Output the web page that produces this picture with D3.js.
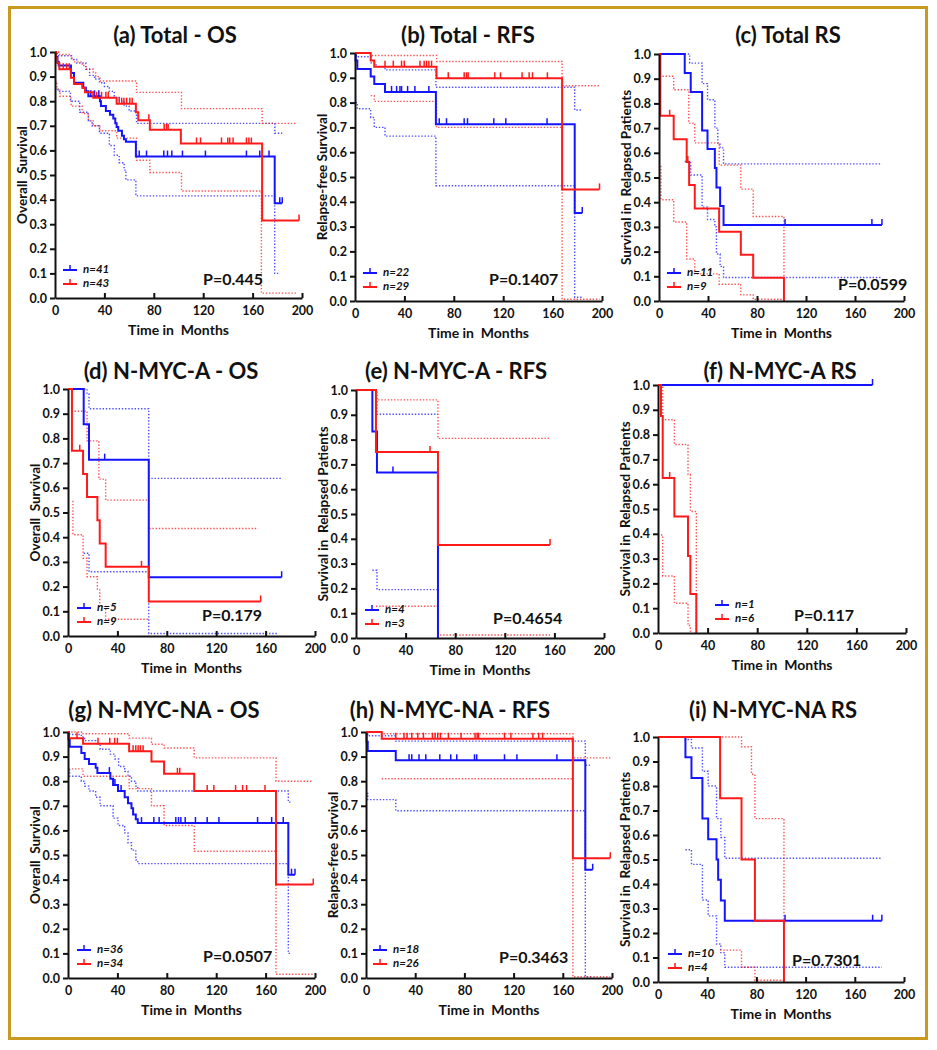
<!DOCTYPE html>
<html>
<head>
<meta charset="utf-8">
<script src="https://cdn.jsdelivr.net/npm/d3@7"></script>
<style>
body { margin: 0; background: #fff; }
text { font-family: Lato, "Open Sans", sans-serif; font-weight: bold; fill: #111; }
</style>
</head>
<body>
<div id="chart"></div>
<script>
// ---- data: [time, survival] step points, censor times, CI bands ----
const xTicks = [0, 40, 80, 120, 160, 200];
const yTicks = [0, 0.1, 0.2, 0.3, 0.4, 0.5, 0.6, 0.7, 0.8, 0.9, 1.0];

// (a) Total - OS
const aBlue = [[0,1],[0.8,0.98],[1.9,0.96],[3,0.945],[12.9,0.915],[15.4,0.875],[22.9,0.855],[25,0.84],[27,0.82],[36.4,0.80],[37.2,0.78],[41.2,0.76],[44.5,0.745],[47.2,0.73],[48.8,0.71],[49.9,0.695],[51.2,0.68],[54.2,0.66],[55.8,0.645],[57.4,0.635],[65.5,0.575],[177.9,0.385],[184,0.385]];
const aBlueCens = [29,32,35.5,68.2,74.1,88.1,91.1,94.6,103.2,121.8,155,165.8,173.3,182,184];
const aBlueHi = [[0,1],[2,0.985],[13.4,0.97],[17.5,0.955],[25,0.93],[28,0.905],[32,0.89],[36,0.875],[40,0.86],[44,0.84],[48,0.815],[52,0.80],[56,0.78],[60,0.76],[66,0.71],[178,0.67],[184,0.67]];
const aBlueLo = [[0,0.85],[2.5,0.84],[12.5,0.80],[20,0.755],[27,0.72],[30,0.70],[36,0.67],[44,0.62],[48,0.58],[52,0.55],[56,0.52],[57.4,0.48],[65.5,0.415],[177.9,0.10],[182,0.10]];
const aRed = [[0,1],[0.8,0.975],[1.9,0.955],[3.5,0.93],[12.9,0.895],[15.4,0.87],[22.1,0.855],[24.3,0.836],[31,0.814],[49.9,0.79],[65.5,0.755],[67.4,0.723],[76.8,0.684],[101.9,0.628],[167.7,0.315],[197.6,0.315]];
const aRedCens = [6.7,9.4,11.6,33.7,37.7,41.2,43.1,52,54,55.8,58,60.6,62.5,76,88.4,90.3,91.6,114.6,117.8,134.8,139.9,141.5,144.2,155,157,159,197.6];
const aRedHi = [[0,1],[3,0.99],[13,0.975],[15,0.96],[22,0.945],[25,0.93],[31,0.915],[33,0.9],[36.4,0.882],[66,0.836],[102.4,0.77],[167.7,0.71],[196,0.71]];
const aRedLo = [[0,0.88],[1.5,0.85],[4,0.82],[13,0.78],[22,0.75],[27,0.72],[31,0.70],[36.4,0.68],[49.9,0.65],[66,0.56],[76.8,0.51],[102.4,0.435],[167.1,0.02],[196,0.02]];

// (b) Total - RFS
const bBlue = [[0,1],[0.5,0.97],[1.9,0.935],[12.7,0.905],[15.6,0.875],[24.3,0.843],[65.5,0.713],[177.9,0.355],[184,0.355]];
const bBlueCens = [29.6,33.7,36.4,37.7,42.6,48.5,59.8,68.2,74.1,88.4,91.1,112.4,122.1,155.5,184];
const bBlueHi = [[0,1],[1,0.985],[13,0.96],[17,0.945],[24.3,0.932],[65.5,0.862],[177.9,0.77],[184,0.77]];
const bBlueLo = [[0.5,0.80],[1.9,0.775],[12.7,0.74],[15.6,0.70],[24.3,0.665],[65.5,0.465],[177.9,0.015],[184,0.015]];
const bRed = [[0,1],[12.7,0.97],[15.6,0.945],[66,0.898],[167.7,0.45],[198,0.45]];
const bRedCens = [24.3,31,37.7,39.9,52.6,56,57.9,59.8,62,75.5,88.4,90.3,91.6,113.2,117.8,135.3,141,143.7,155.8,198];
const bRedHi = [[0,1],[12.7,0.99],[66,0.966],[167.7,0.868],[198,0.868]];
const bRedLo = [[12.7,0.828],[15.6,0.805],[66,0.70],[167.7,0.007],[198,0.007]];

// (c) Total RS
const cBlue = [[0,1],[21,0.923],[25.9,0.846],[35.2,0.69],[39.6,0.615],[45.6,0.538],[46.9,0.46],[49.9,0.385],[52.7,0.308],[182,0.308]];
const cBlueCens = [102.9,173.8,182];
const cBlueHi = [[0,1],[25,0.963],[35.2,0.88],[39.6,0.815],[45.6,0.70],[48,0.635],[49.9,0.62],[52.7,0.555],[182,0.555]];
const cBlueLo = [[21,0.565],[25.9,0.51],[35.2,0.38],[39.6,0.33],[45.6,0.30],[46.9,0.19],[49.9,0.14],[52.7,0.095],[182,0.095]];
const cRed = [[0,1],[1.1,0.75],[12,0.655],[22.6,0.563],[24.6,0.47],[29.2,0.375],[49.1,0.28],[66.8,0.187],[76.9,0.094],[102,0]];
const cRedCens = [8.7,23.5];
const cRedHi = [[0,1],[1.1,0.91],[12,0.855],[24.3,0.72],[29.2,0.64],[49.1,0.55],[66.8,0.453],[76.9,0.342],[102,0]];
const cRedLo = [[1.1,0.545],[1.6,0.41],[12,0.32],[22.6,0.17],[29.2,0.11],[49.1,0.068],[66.8,0.025],[76.9,0.007],[102,0.007]];

// (d) N-MYC-A - OS
const dBlue = [[0,1],[12.7,0.857],[17,0.714],[65.4,0.238],[173,0.238]];
const dBlueCens = [29.7,173];
const dBlueHi = [[0,1],[15.4,0.98],[17,0.92],[65.4,0.638],[173,0.638]];
const dBlueLo = [[12.7,0.335],[17,0.26],[65.4,0.01],[170,0.01]];
const dRed = [[0,1],[3.2,0.75],[12.2,0.656],[15.4,0.563],[23.8,0.469],[25.7,0.375],[30.5,0.28],[65.4,0.14],[156,0.14]];
const dRedCens = [9.5,59.5,156];
const dRedHi = [[0,1],[3.5,0.91],[15.4,0.79],[25,0.635],[30.5,0.55],[65.4,0.435],[154,0.435]];
const dRedLo = [[3.5,0.545],[4,0.41],[12.2,0.315],[15.4,0.24],[23.8,0.19],[25.7,0.12],[30.5,0.068],[65.4,0.068]];

// (e) N-MYC-A - RFS
const eBlue = [[0,1],[13.2,0.833],[16.9,0.667],[66.1,0]];
const eBlueCens = [29.8];
const eBlueHi = [[0,1],[16.9,0.902],[66.1,0.902]];
const eBlueLo = [[13.2,0.273],[16.9,0.195],[66.1,0.195]];
const eRed = [[0,1],[16.1,0.75],[66.1,0.375],[156.5,0.375]];
const eRedCens = [59.7,156.5];
const eRedHi = [[0,1],[16.1,0.96],[66.1,0.805],[156.5,0.805]];
const eRedLo = [[16.1,0.128],[66.1,0.012],[156.5,0.012]];

// (f) N-MYC-A RS
const fBlue = [[0,1],[173,1]];
const fBlueCens = [173];
const fBlueHi = [];
const fBlueLo = [];
const fRed = [[0,1],[2.4,0.875],[3.8,0.625],[13.2,0.47],[24.2,0.31],[26.1,0.157],[30.9,0]];
const fRedCens = [9.4];
const fRedHi = [[0,1],[3.8,0.86],[13.2,0.76],[24.2,0.64],[26.1,0.49],[30.9,0]];
const fRedLo = [[2.4,0.395],[3.8,0.23],[13.2,0.12],[24.2,0.03],[26.1,0]];

// (g) N-MYC-NA - OS
const gBlue = [[0,1],[0.5,0.97],[1.4,0.94],[10.8,0.915],[13.5,0.89],[17,0.87],[22.4,0.855],[23.8,0.833],[34.3,0.81],[36.5,0.785],[40.5,0.76],[45.9,0.735],[48.6,0.71],[51.4,0.69],[52.7,0.665],[54.9,0.645],[56.5,0.63],[178.4,0.42],[183.8,0.42]];
const gBlueCens = [33.5,38,43,59.5,69.5,73.8,87.3,89.5,91.4,94.9,103.2,112.7,122.2,153.5,164.9,174.3,181,183.8];
const gBlueHi = [[0,1],[1.4,0.99],[10.8,0.98],[13.5,0.965],[22.4,0.95],[26,0.93],[34.3,0.91],[38,0.89],[41,0.86],[45.9,0.84],[48.6,0.82],[51.4,0.80],[54.9,0.78],[56.5,0.76],[178.4,0.715],[181,0.715]];
const gBlueLo = [[0.5,0.845],[1.4,0.82],[10.8,0.80],[13.5,0.78],[17,0.76],[22.4,0.735],[26,0.70],[36.5,0.65],[40.5,0.62],[45.9,0.59],[48.6,0.55],[51.4,0.52],[54.9,0.48],[56.5,0.465],[178.4,0.10],[181,0.10]];
const gRed = [[0,1],[0.5,0.975],[12.2,0.952],[49.5,0.922],[67.6,0.88],[77.8,0.83],[102.2,0.76],[168.4,0.38],[198.6,0.38]];
const gRedCens = [7.3,24.3,33.8,37.8,40,52.7,54.9,56.8,58.6,60.8,88.6,90.5,112.7,118.1,135.7,141.4,144.6,159.5,198.6];
const gRedHi = [[0,1],[12.2,0.993],[49.5,0.975],[67.6,0.95],[77.8,0.935],[102.2,0.895],[168.4,0.80],[198,0.80]];
const gRedLo = [[0.5,0.85],[12.2,0.82],[49.5,0.77],[67.6,0.70],[77.8,0.62],[102.2,0.515],[168.4,0.015],[198,0.015]];

// (h) N-MYC-NA - RFS
const hBlue = [[0,1],[0.5,0.96],[1.4,0.923],[24.2,0.885],[178.3,0.44],[184.3,0.44]];
const hBlueCens = [35,37.2,43.1,48.6,60,68.9,73.8,88.2,90,112.6,122.7,155.2,184.3];
const hBlueHi = [[0,1],[1.4,0.985],[24.2,0.963],[178.3,0.865],[182,0.865]];
const hBlueLo = [[0.5,0.75],[1.4,0.725],[24.2,0.68],[178.3,0.005],[183,0.005]];
const hRed = [[0,1],[12.8,0.973],[168.2,0.487],[198.6,0.487]];
const hRedCens = [24.2,30.9,33.4,37.2,42.1,46.7,54,56.2,58.3,60.5,67,77.3,88.7,90.4,91.5,112.6,117.8,135.7,140.4,143.6,198.6];
const hRedHi = [[0,1],[12.8,0.993],[168.2,0.895],[198.6,0.895]];
const hRedLo = [[12.8,0.81],[168.2,0.005],[198.6,0.005]];

// (i) N-MYC-NA RS
const iBlue = [[0,1],[22.3,0.917],[27.2,0.833],[36.1,0.667],[40.8,0.583],[47.6,0.5],[48.9,0.417],[51.1,0.333],[54.3,0.25],[182,0.25]];
const iBlueCens = [103.3,174.5,182];
const iBlueHi = [[0,1],[22.3,0.99],[27.2,0.955],[36.1,0.86],[40.8,0.80],[47.6,0.667],[51.1,0.59],[54.3,0.505],[182,0.505]];
const iBlueLo = [[22.3,0.54],[27.2,0.48],[36.1,0.335],[40.8,0.27],[47.6,0.155],[51.1,0.12],[54.3,0.06],[182,0.06]];
const iRed = [[0,1],[50.5,0.75],[67.9,0.5],[78.8,0.25],[102.4,0]];
const iRedCens = [];
const iRedHi = [[0,1],[67.9,0.96],[76,0.848],[78.8,0.667],[102.4,0.25]];
const iRedLo = [[50.5,0.13],[67.9,0.06],[78.8,0.007],[102.4,0.007]];

// ---- layout of the 3x3 grid ----
const OS = "Overall  Survival", RFS = "Relapse-free Survival", RS = "Survival in  Relapsed Patients";
const panels = [
    {title: "(a) Total - OS",      tx: 175, ty: 37,  yt: OS,  box: [55, 302, 52, 298],  n: [41, 43], p: "P=0.445",  px: 203, py: 281, lx: 8,
     blue: [aBlue, aBlueCens, aBlueHi, aBlueLo], red: [aRed, aRedCens, aRedHi, aRedLo]},
    {title: "(b) Total - RFS",     tx: 468, ty: 37,  yt: RFS, box: [355, 602, 53, 301], n: [22, 29], p: "P=0.1407", px: 489, py: 281, lx: 8,
     blue: [bBlue, bBlueCens, bBlueHi, bBlueLo], red: [bRed, bRedCens, bRedHi, bRedLo]},
    {title: "(c) Total RS",        tx: 788, ty: 37,  yt: RS,  box: [659, 904, 54, 301], n: [11, 9],  p: "P=0.0599", px: 838, py: 286, lx: 8,
     blue: [cBlue, cBlueCens, cBlueHi, cBlueLo], red: [cRed, cRedCens, cRedHi, cRedLo]},
    {title: "(d) N-MYC-A - OS",    tx: 171, ty: 373, yt: OS,  box: [68, 315, 389, 636], n: [5, 9],   p: "P=0.179",  px: 202, py: 617, lx: 9,
     blue: [dBlue, dBlueCens, dBlueHi, dBlueLo], red: [dRed, dRedCens, dRedHi, dRedLo]},
    {title: "(e) N-MYC-A - RFS",   tx: 456, ty: 373, yt: RS,  box: [356, 604, 390, 638], n: [4, 3],  p: "P=0.4654", px: 493, py: 620, lx: 9,
     blue: [eBlue, eBlueCens, eBlueHi, eBlueLo], red: [eRed, eRedCens, eRedHi, eRedLo]},
    {title: "(f) N-MYC-A RS",      tx: 780, ty: 373, yt: RS,  box: [658, 906, 385, 633], n: [1, 6],  p: "P=0.117",  px: 794, py: 617, lx: 57,
     blue: [fBlue, fBlueCens, fBlueHi, fBlueLo], red: [fRed, fRedCens, fRedHi, fRedLo]},
    {title: "(g) N-MYC-NA - OS",   tx: 164, ty: 712, yt: OS,  box: [68, 315, 732, 978], n: [36, 34], p: "P=0.0507", px: 203, py: 958, lx: 9,
     blue: [gBlue, gBlueCens, gBlueHi, gBlueLo], red: [gRed, gRedCens, gRedHi, gRedLo]},
    {title: "(h) N-MYC-NA - RFS",  tx: 450, ty: 712, yt: RFS, box: [366, 612, 732, 978], n: [18, 26], p: "P=0.3463", px: 499, py: 959, lx: 7,
     blue: [hBlue, hBlueCens, hBlueHi, hBlueLo], red: [hRed, hRedCens, hRedHi, hRedLo]},
    {title: "(i) N-MYC-NA RS",     tx: 773, ty: 712, yt: RS,  box: [658, 904, 737, 982], n: [10, 4], p: "P=0.7301", px: 792, py: 962, lx: 10,
     blue: [iBlue, iBlueCens, iBlueHi, iBlueLo], red: [iRed, iRedCens, iRedHi, iRedLo]}
];

const BLUE = "#1414ff", RED = "#ff1a1a";
const width = 937, height = 1050;

const svg = d3.select("#chart")
    .append("svg")
    .attr("width", width)
    .attr("height", height)
;

// gold frame
svg.append("rect")
    .attr("x", 9.5).attr("y", 7.5)
    .attr("width", 917).attr("height", 1031)
    .attr("fill", "none")
    .attr("stroke", "#c99a1e")
    .attr("stroke-width", 3)
;

function survAt(steps, t) {
    let s = steps[0][1];
    for (const p of steps) {
        if (p[0] <= t) s = p[1]; else break;
    }
    return s;
}

function drawPanel(cfg) {
    const [x0, x1, y1, y0] = cfg.box;
    const x = d3.scaleLinear().domain([0, 200]).range([x0, x1]);
    const y = d3.scaleLinear().domain([0, 1]).range([y0, y1]);
    const g = svg.append("g");

    const line = d3.line()
        .x(d => x(d[0]))
        .y(d => y(d[1]))
        .curve(d3.curveStepAfter)
    ;

    // confidence bands (dotted)
    [[cfg.blue, BLUE], [cfg.red, RED]].forEach(([grp, col]) => {
        [grp[2], grp[3]].forEach(band => {
            if (!band.length) return;
            g.append("path")
                .attr("d", line(band))
                .attr("fill", "none")
                .attr("stroke", col)
                .attr("stroke-opacity", 0.75)
                .attr("stroke-width", 1.4)
                .attr("stroke-dasharray", "1.4,1.8")
            ;
        });
    });

    // survival curves and censor ticks
    [[cfg.blue, BLUE], [cfg.red, RED]].forEach(([grp, col]) => {
        g.append("path")
            .attr("d", line(grp[0]))
            .attr("fill", "none")
            .attr("stroke", col)
            .attr("stroke-width", 2)
        ;
        g.selectAll(null)
            .data(grp[1])
            .enter()
            .append("line")
            .attr("x1", d => x(d)).attr("x2", d => x(d))
            .attr("y1", d => y(survAt(grp[0], d)))
            .attr("y2", d => y(survAt(grp[0], d)) - 6)
            .attr("stroke", col)
            .attr("stroke-width", 1.5)
        ;
    });

    // axes
    const yAxis = g.append("g")
        .attr("transform", `translate(${x0},0)`)
        .call(d3.axisLeft(y).tickValues(yTicks).tickFormat(d3.format(".1f")).tickSize(5).tickSizeOuter(0).tickPadding(3))
    ;
    const xAxis = g.append("g")
        .attr("transform", `translate(0,${y0})`)
        .call(d3.axisBottom(x).tickValues(xTicks).tickSize(-5).tickSizeOuter(0).tickPadding(8))
    ;
    [yAxis, xAxis].forEach(ax => {
        ax.select(".domain").attr("stroke", "#111").attr("stroke-width", 2);
        ax.selectAll(".tick line").attr("stroke", "#111").attr("stroke-width", 2);
        ax.selectAll(".tick text").attr("font-size", 12.5).attr("fill", "#111")
            .style("font-family", "Lato, sans-serif").style("font-weight", "bold");
    });
    xAxis.selectAll(".tick").filter(d => d === 0).select("line").remove();

    // titles
    g.append("text")
        .attr("x", cfg.tx).attr("y", cfg.ty)
        .attr("text-anchor", "middle").attr("dominant-baseline", "middle")
        .attr("font-size", 22)
        .text(cfg.title)
    ;
    g.append("text")
        .attr("transform", `translate(${x0 - 31},${(y0 + y1) / 2}) rotate(-90)`)
        .attr("text-anchor", "middle").attr("dominant-baseline", "middle")
        .attr("font-size", 13.5)
        .style("white-space", "pre")
        .text(cfg.yt)
    ;
    g.append("text")
        .attr("x", (x0 + x1) / 2).attr("y", y0 + 33)
        .attr("text-anchor", "middle").attr("dominant-baseline", "middle")
        .attr("font-size", 14)
        .style("white-space", "pre")
        .text("Time in  Months")
    ;

    // legend
    [[BLUE, cfg.n[0], 28], [RED, cfg.n[1], 14]].forEach(([col, n, dy]) => {
        const ly = y0 - dy, lx = x0 + cfg.lx;
        g.append("line").attr("x1", lx).attr("x2", lx + 14).attr("y1", ly).attr("y2", ly)
            .attr("stroke", col).attr("stroke-width", 2);
        g.append("line").attr("x1", lx + 7).attr("x2", lx + 7).attr("y1", ly).attr("y2", ly - 5)
            .attr("stroke", col).attr("stroke-width", 1.5);
        g.append("text")
            .attr("x", lx + 20).attr("y", ly)
            .attr("dominant-baseline", "middle")
            .attr("font-size", 11.5).attr("font-style", "italic")
            .text("n=" + n);
    });

    // p value
    g.append("text")
        .attr("x", cfg.px).attr("y", cfg.py)
        .attr("dominant-baseline", "middle")
        .attr("font-size", 16)
        .text(cfg.p)
    ;
}

panels.forEach(drawPanel);
</script>
</body>
</html>
